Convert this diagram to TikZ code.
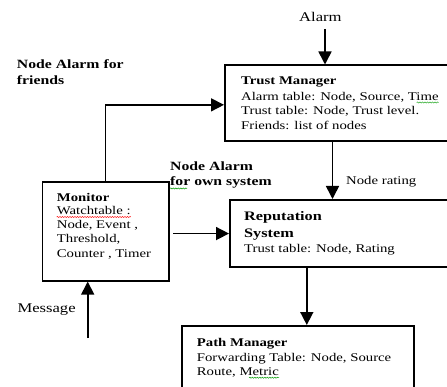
\documentclass[tikz,border=0pt]{standalone}
\usepackage{fontspec}
\setmainfont{Liberation Serif}[FakeStretch=1.25]
\usetikzlibrary{arrows.meta,decorations.pathmorphing}
\begin{document}
\begin{tikzpicture}[x=1pt,y=-1pt,
  box/.style={draw,line width=1.6pt,inner sep=0pt,anchor=north west},
  conn/.style={line width=1.6pt},
  arr/.style={conn,-{Triangle[length=13pt,width=13pt]}},
  txt/.style={anchor=base west,inner sep=0pt,font=\fontsize{11.8}{14}\selectfont},
  hd/.style={anchor=base west,inner sep=0pt,font=\bfseries\fontsize{11.8}{14}\selectfont},
  rephd/.style={anchor=base west,inner sep=0pt,font=\bfseries\fontsize{13}{15}\selectfont},
  lbl/.style={anchor=base west,inner sep=0pt,font=\bfseries\fontsize{12.6}{15}\selectfont},
  plain/.style={anchor=base west,inner sep=0pt,font=\fontsize{13.3}{15}\selectfont},
  squig/.style={decorate,decoration={snake,amplitude=0.6pt,segment length=2.5pt},line width=0.5pt},
]
\useasboundingbox (0,0) rectangle (447,387);
\clip (0,0) rectangle (447,387);

% boxes
\node[box,minimum width=250pt,minimum height=75.5pt] (tm) at (224,64.5) {};
\node[box,minimum width=250pt,minimum height=67.5pt] (rep) at (229,199) {};
\node[box,minimum width=126.5pt,minimum height=99pt] (mon) at (41.5,181) {};
\node[box,minimum width=232pt,minimum height=80pt] (pm) at (181,325) {};

% free ends
\coordinate (alarmtop) at (325,29);
\coordinate (msgbot) at (87.7,338);
\coordinate (a1) at ([xshift=-17.3pt]tm.south);
\coordinate (a2) at ([xshift=-48pt]rep.south);

% connectors
\draw[arr] (alarmtop) -- (alarmtop |- tm.north);
\draw[arr] (mon.north) |- ([yshift=-1.8pt]tm.west);
\draw[arr] (a1) -- (a1 |- rep.north);
\draw[arr,shorten <=3.5pt] (mon.east |- rep.west) -- (rep.west);
\draw[arr] (msgbot) -- (msgbot |- mon.south);
\draw[arr] (a2) -- (a2 |- pm.north);

% free labels
\node[plain] (alarm) at (299,21.7) {Alarm};
\node[lbl] (naf1) at (16.7,69) {Node Alarm for};
\node[lbl] (naf2) at (16.7,85) {friends};
\node[lbl] (nao1) at (170,170.7) {Node Alarm};
\node[lbl] (nao2) at (170,186) {for own system};
\node[txt] (nr) at (346,185) {Node rating};
\node[plain] (msg) at (17.3,312.7) {Message};

% Trust Manager
\node[hd] (tm1) at (241,85) {Trust Manager};
\node[txt] (tm2) at (241,100.5) {Alarm table: Node, Source, Time};
\node[txt] (tm3) at (241,115) {Trust table: Node, Trust level.};
\node[txt] (tm4) at (241,130) {Friends: list of nodes};

% Monitor
\node[hd] (mo1) at (56.7,201.7) {Monitor};
\node[txt] (mo2) at (56.7,215) {Watchtable :};
\node[txt] (mo3) at (56.7,229) {Node, Event ,};
\node[txt] (mo4) at (56.7,243) {Threshold,};
\node[txt] (mo5) at (56.7,258) {Counter , Timer};

% Reputation System
\node[rephd] (re1) at (244,221) {Reputation};
\node[rephd] (re2) at (244,238) {System};
\node[txt] (re3) at (244,253) {Trust table: Node, Rating};

% Path Manager
\node[hd] (pm1) at (196.7,346) {Path Manager};
\node[txt] (pm2) at (196.7,361) {Forwarding Table: Node, Source};
\node[txt] (pm3) at (196.7,375.7) {Route, Metric};

% spell-check underlines
\draw[squig,red] ([yshift=-2pt]mo2.base west) -- ([yshift=-2pt]mo2.base east);
\draw[squig,green!60!black] ([yshift=-2.5pt]nao2.base west) -- ([xshift=17pt,yshift=-2.5pt]nao2.base west);
\draw[squig,green!60!black] ([xshift=-22pt,yshift=-2pt]tm2.base east) -- ([yshift=-2pt]tm2.base east);
\draw[squig,green!60!black] ([xshift=-30pt,yshift=-2pt]pm3.base east) -- ([yshift=-2pt]pm3.base east);
\end{tikzpicture}
\end{document}
